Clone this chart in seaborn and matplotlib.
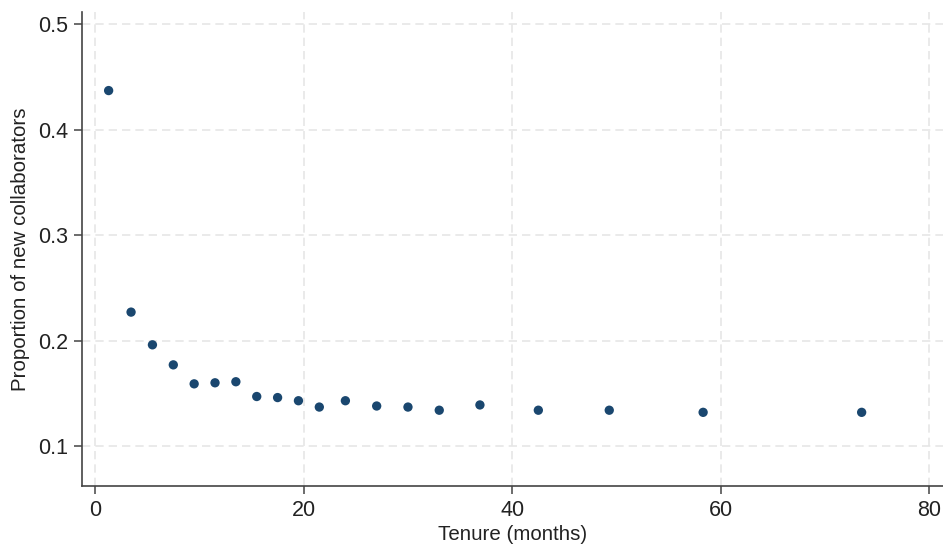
import numpy as np
import pandas as pd
import seaborn as sns
import matplotlib.pyplot as plt

# Data
tenure = [1.3, 3.45, 5.5, 7.5, 9.5, 11.5, 13.5, 15.5, 17.5, 19.5,
          21.5, 24.0, 27.0, 30.0, 33.0, 36.9, 42.5, 49.3, 58.3, 73.5]
proportion = [0.437, 0.227, 0.196, 0.177, 0.159, 0.160, 0.161, 0.147, 0.146, 0.143,
              0.137, 0.143, 0.138, 0.137, 0.134, 0.139, 0.134, 0.134, 0.132, 0.132]
x_ticks = [0, 20, 40, 60, 80]
y_ticks = [0.1, 0.2, 0.3, 0.4, 0.5]

df = pd.DataFrame({'Tenure': tenure, 'Proportion': proportion})

sns.set_theme(style='white')
plt.rcParams['font.family'] = ['Liberation Sans', 'DejaVu Sans']

fig = plt.figure(figsize=(9.43, 5.49), dpi=100)
ax = fig.add_axes([0.087, 0.115, 0.913, 0.863])

sns.scatterplot(data=df, x='Tenure', y='Proportion', color='#1a476f', s=45,
                edgecolor='none', ax=ax, zorder=3)

ax.set_xlim(-1.25, 81.3)
ax.set_ylim(0.0623, 0.5114)
ax.set_xticks(x_ticks)
ax.set_yticks(y_ticks)
ax.set_yticklabels([f'{v:.1f}' for v in y_ticks])

ax.grid(True, linestyle=(0, (5, 3)), color='#e6e6e6', linewidth=1.2)
for side in ['top', 'right']:
    ax.spines[side].set_visible(False)
for side in ['left', 'bottom']:
    ax.spines[side].set_color('#444444')
    ax.spines[side].set_linewidth(1.2)
ax.tick_params(axis='both', which='major', direction='out', length=6, width=1.1,
               color='#444444', labelsize=15.5, labelcolor='#222222',
               left=True, bottom=True, pad=4)

ax.set_xlabel('Tenure (months)', fontsize=14.8, color='#222222', labelpad=3)
ax.set_ylabel('Proportion of new collaborators', fontsize=14.8, color='#222222', labelpad=6)

fig.savefig('out.png', dpi=100)
